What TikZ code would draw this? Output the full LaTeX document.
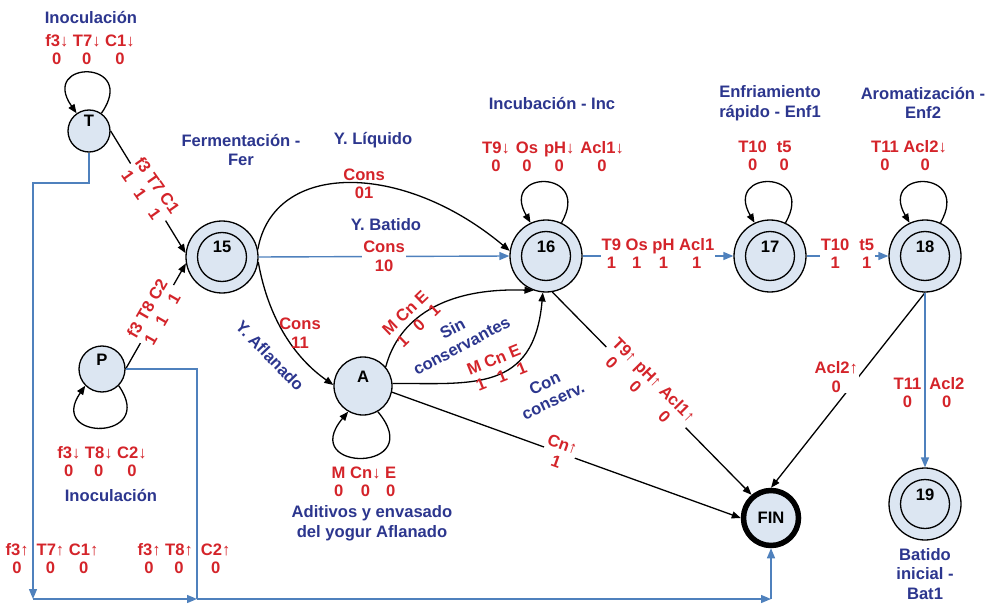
\documentclass[tikz,border=0pt]{standalone}
\usepackage{fontspec}
\setmainfont{Liberation Sans}
\usetikzlibrary{arrows.meta}
\definecolor{tred}{RGB}{212,36,42}
\definecolor{tblue}{RGB}{44,54,142}
\definecolor{lblue}{RGB}{79,129,189}
\definecolor{nfill}{RGB}{220,230,242}
\newcommand\rt[2]{\begin{tabular}{@{}#1@{}}#2\end{tabular}}
\begin{document}
\begin{tikzpicture}[x=1pt,y=1pt,
  font=\bfseries\fontsize{16.6}{19.5}\selectfont,
  st/.style={circle,draw=black,line width=1.3pt,fill=nfill,inner sep=0pt,text height=4pt,text depth=12pt},
  big/.style={st,minimum size=72pt},
  arr/.style={draw=black,line width=1.3pt,-{Triangle[length=9pt,width=7pt]}},
  bline/.style={draw=lblue,line width=1.4pt},
  barr/.style={bline,-{Triangle[length=10pt,width=8pt]}},
  rtxt/.style={text=tred,align=center,inner sep=1pt,font=\bfseries\fontsize{16.6}{18.5}\selectfont},
  btxt/.style={text=tblue,align=center,inner sep=1pt},
  wbg/.style={fill=white}]
\useasboundingbox (0,0) rectangle (987,606);

% states
\node[st,minimum size=42pt] (T) at (89,475) {T};
\node[st,minimum size=46pt] (P) at (102,237) {P};
\node[big] (n15) at (222,349) {15};
\node[big] (n16) at (546,350) {16};
\node[big] (n17) at (770,350) {17};
\node[big] (n18) at (925,350) {18};
\node[big] (n19) at (925,102) {19};
\node[st,minimum size=58pt] (A) at (363,220) {A};
\node[st,minimum size=55pt,line width=5.5pt,text height=11pt,text depth=0pt] (FIN) at (771,88) {FIN};
\foreach \n in {n15,n16,n17,n18,n19}
  \draw[line width=1.3pt] (\n.center) circle[radius=24.5pt];

% self loops
\draw[arr] (T.55) .. controls +(55:66pt) and +(125:66pt) .. (T.125);
\draw[arr] (P.-45) .. controls +(-55:68pt) and +(235:68pt) .. (P.225);
\draw[arr] (A.-60) .. controls +(-50:80pt) and +(230:80pt) .. (A.240);
\foreach \n in {n16,n17,n18}
  \draw[arr] (\n.65) .. controls +(60:62pt) and +(120:62pt) .. (\n.115);

% black transitions
\draw[arr] (T.east) -- node[rtxt,wbg,rotate=-55,pos=0.5]{\rt{c@{~}c@{~}c}{f3&T7&C1\\1&1&1}} (n15.174);
\draw[arr] (P.east) -- node[rtxt,wbg,rotate=60,pos=0.52]{\rt{c@{~}c@{~}c}{f3&T8&C2\\1&1&1}} (n15.190);
\draw[arr] (n15.12) .. controls +(80:90pt) and +(140:140pt) .. node[rtxt,pos=0.55]{Cons\\01} (n16.172);
\draw[arr] (n15.-8) .. controls +(-80:60pt) and +(145:45pt) .. (A.178);
\draw[arr] (A.40) .. controls +(75:50pt) and +(178:90pt) .. (n16.250);
\draw[arr] (A.5) .. controls +(0:80pt) and +(-95:100pt) .. (n16.265);
\draw[arr] (A.-12) -- node[rtxt,wbg,sloped,pos=0.48]{Cn↑\\1} (FIN.west);
\draw[arr] (n16.-80) -- node[rtxt,wbg,sloped,pos=0.47]{\rt{c@{~}c@{~}c}{T9↑&pH↑&Acl1↑\\0&0&0}} (FIN.130);
\draw[arr] (n18.south) -- node[rtxt,wbg,pos=0.433,xshift=-22pt]{Acl2↑\\0} (FIN.north);

% blue transitions
\draw[barr] (n15.east) -- node[rtxt,wbg]{Cons\\10} (n16.west);
\draw[barr] (n16.east) -- node[rtxt,wbg]{\rt{c@{~}c@{~}c@{~}c}{T9&Os&pH&Acl1\\1&1&1&1}} (n17.west);
\draw[barr] (n17.east) -- node[rtxt,wbg]{\rt{c@{\hspace{10pt}}c}{T10&t5\\1&1}} (n18.west);
\draw[barr] (n18.south) -- (n19.north);

\coordinate (c1) at (89,423);
\coordinate (c2) at (33,423);
\coordinate (c3) at (33,7);
\coordinate (c4) at (197,7);
\coordinate (c5) at (197,237);
\coordinate (c6) at (771,7);
\draw[barr] (T.south) -- (c1) -- (c2) -- (c3);
\draw[barr] (c3) -- (c4);
\draw[bline] (P.east) -- (c5) -- (c4);
\draw[barr] (c4) -- (c6);
\draw[barr] (c6) -- (FIN.south);

% state texts
\node[btxt] (lInT) at (91,589) {Inoculación};
\node[rtxt] (lT) at (90,554) {\rt{c@{~}c@{~}c}{f3↓&T7↓&C1↓\\0&0&0}};
\node[rtxt] (lP) at (102,142) {\rt{c@{~}c@{~}c}{f3↓&T8↓&C2↓\\0&0&0}};
\node[btxt] (lInP) at (111,111) {Inoculación};
\node[btxt] (lFer) at (241,456) {Fermentación -\\Fer};
\node[btxt] (lLiq) at (373,466) {Y. Líquido};
\node[btxt] (lBat) at (386,381) {Y. Batido};
\node[rtxt] (lC11) at (300,273) {Cons\\11};
\node[btxt,rotate=-46] (lAfl) at (270,250) {Y. Aflanado};
\node[rtxt] (lA) at (364,122) {\rt{c@{~}c@{~}c}{M&Cn↓&E\\0&0&0}};
\node[btxt] (lAdi) at (372,83) {Aditivos y envasado\\del yogur Aflanado};
\node[rtxt,rotate=44] (lSinv) at (413,285) {\rt{c@{~}c@{~}c}{M&Cn&E\\1&0&1}};
\node[btxt,rotate=28] (lSin) at (457,269) {Sin\\conservantes};
\node[rtxt,rotate=22] (lConv) at (498,236) {\rt{c@{~}c@{~}c}{M&Cn&E\\1&1&1}};
\node[btxt,rotate=25] (lCon) at (549,214) {Con\\conserv.};
\node[btxt] (lInc) at (552,503) {Incubación - Inc};
\node[rtxt] (l16) at (553,447) {\rt{c@{\hspace{6pt}}c@{\hspace{6pt}}c@{\hspace{6pt}}c}{T9↓&Os&pH↓&Acl1↓\\0&0&0&0}};
\node[btxt] (lEnf1) at (770,503) {Enfriamiento\\rápido - Enf1};
\node[rtxt] (l17) at (765,448) {\rt{c@{\hspace{10pt}}c}{T10&t5\\0&0}};
\node[btxt] (lEnf2) at (923,503) {Aromatización -\\Enf2};
\node[rtxt] (l18) at (909,448) {\rt{c@{~}c}{T11&Acl2↓\\0&0}};
\node[rtxt] (l1819) at (929,211) {\rt{c@{\hspace{8pt}}c}{T11&Acl2\\0&0}};
\node[btxt] (lBat1) at (925,32) {Batido\\inicial -\\Bat1};
\node[rtxt] (lb1) at (52,45) {\rt{c@{\hspace{8pt}}c@{~}c}{f3↑&T7↑&C1↑\\0&0&0}};
\node[rtxt] (lb2) at (184,45) {\rt{c@{~}c@{\hspace{8pt}}c}{f3↑&T8↑&C2↑\\0&0&0}};
\end{tikzpicture}
\end{document}
